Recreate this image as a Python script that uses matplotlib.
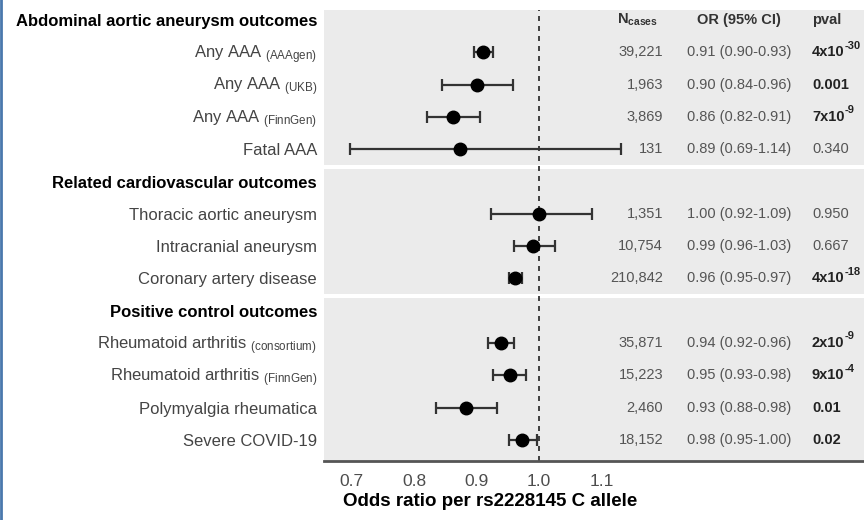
import matplotlib
matplotlib.use("Agg")
import matplotlib.pyplot as plt
from matplotlib.lines import Line2D

plt.rcParams['font.family'] = ['Liberation Sans', 'DejaVu Sans']
plt.rcParams['mathtext.fontset'] = 'custom'
plt.rcParams['mathtext.rm'] = 'Liberation Sans'
plt.rcParams['mathtext.bf'] = 'Liberation Sans:bold'
plt.rcParams['mathtext.it'] = 'Liberation Sans:italic'

# ---- data ----
headers = ["Abdominal aortic aneurysm outcomes",
           "Related cardiovascular outcomes",
           "Positive control outcomes"]
header_rows = [0, 5, 9]

labels = [r"Any AAA $_{\mathregular{(AAAgen)}}$",
          r"Any AAA $_{\mathregular{(UKB)}}$",
          r"Any AAA $_{\mathregular{(FinnGen)}}$",
          "Fatal AAA",
          "Thoracic aortic aneurysm",
          "Intracranial aneurysm",
          "Coronary artery disease",
          r"Rheumatoid arthritis $_{\mathregular{(consortium)}}$",
          r"Rheumatoid arthritis $_{\mathregular{(FinnGen)}}$",
          "Polymyalgia rheumatica",
          "Severe COVID-19"]
rows = [1, 2, 3, 4, 6, 7, 8, 10, 11, 12, 13]

est = [0.910, 0.900, 0.862, 0.873, 1.000, 0.990, 0.962, 0.939, 0.954, 0.883, 0.973]
lo  = [0.896, 0.845, 0.820, 0.697, 0.923, 0.960, 0.952, 0.918, 0.926, 0.835, 0.952]
hi  = [0.926, 0.958, 0.906, 1.131, 1.085, 1.026, 0.972, 0.960, 0.979, 0.933, 0.997]

ncases = ["39,221", "1,963", "3,869", "131", "1,351", "10,754", "210,842",
          "35,871", "15,223", "2,460", "18,152"]
or_ci = ["0.91 (0.90-0.93)", "0.90 (0.84-0.96)", "0.86 (0.82-0.91)", "0.89 (0.69-1.14)",
         "1.00 (0.92-1.09)", "0.99 (0.96-1.03)", "0.96 (0.95-0.97)",
         "0.94 (0.92-0.96)", "0.95 (0.93-0.98)", "0.93 (0.88-0.98)", "0.98 (0.95-1.00)"]
pval_base = ["4x10", "0.001", "7x10", "0.340", "0.950", "0.667", "4x10",
             "2x10", "9x10", "0.01", "0.02"]
pval_exp = ["-30", "", "-9", "", "", "", "-18", "-9", "-4", "", ""]
pval_bold = [True, True, True, False, False, False, True, True, True, True, True]

xticks = [0.7, 0.8, 0.9, 1.0, 1.1]
xtick_labels = ["0.7", "0.8", "0.9", "1.0", "1.1"]

# ---- figure ----
W, H = 864, 520
fig = plt.figure(figsize=(W / 100, H / 100), dpi=100)

ax_l, ax_r, ax_t, ax_b = 324, 864, 10, 461
ax = fig.add_axes([ax_l / W, 1 - ax_b / H, (ax_r - ax_l) / W, (ax_b - ax_t) / H])
ax.set_facecolor('#ebebeb')

scale = 625.0  # px per unit
x1_px = 539
xmin = 1.0 - (x1_px - ax_l) / scale
xmax = 1.0 + (ax_r - x1_px) / scale
ax.set_xlim(xmin, xmax)

row_px0, row_step = 20, 32.3
ymin_r = (ax_t - row_px0) / row_step
ymax_r = (ax_b - row_px0) / row_step
ax.set_ylim(ymax_r, ymin_r)

def px2x(px):
    return xmin + (px - ax_l) / scale

# white separators between panels
for yb in [4.55, 8.55]:
    ax.axhspan(yb - 0.06, yb + 0.06, color='white', lw=0, zorder=1)

ax.axvline(1.0, color='#222222', ls=(0, (3, 3)), lw=1.2, zorder=2)

ax.errorbar(est, rows, xerr=[[e - l for e, l in zip(est, lo)], [h - e for e, h in zip(est, hi)]],
            fmt='o', color='black', ecolor='#333333', elinewidth=1.6, capsize=4.5,
            capthick=1.6, markersize=9, zorder=3)

for s in ['top', 'right', 'left']:
    ax.spines[s].set_visible(False)
ax.spines['bottom'].set_color('#555555')
ax.spines['bottom'].set_linewidth(2)
ax.set_yticks([])
ax.set_xticks(xticks)
ax.set_xticklabels(xtick_labels, fontsize=12.5, color='#4d4d4d')
ax.tick_params(axis='x', length=0, pad=9)

# left labels (baseline aligned so subscripts don't shift the main text)
lab_x = 317 / W
base_off = 6
for r, h in zip(header_rows, headers):
    fig.text(lab_x, 1 - (row_px0 + r * row_step + base_off) / H, h, ha='right', va='baseline',
             fontsize=12, fontweight='bold', color='black')
for r, lab in zip(rows, labels):
    fig.text(lab_x, 1 - (row_px0 + r * row_step + base_off) / H, lab, ha='right', va='baseline',
             fontsize=12, color='#444444')

# table columns
tcol = '#555555'
hy = 0.0
ax.text(px2x(617), hy, r"N$_{\mathregular{cases}}$", ha='left', va='center', fontsize=10.5,
        fontweight='bold', color='#333333')
ax.text(px2x(697), hy, "OR (95% CI)", ha='left', va='center', fontsize=10.5,
        fontweight='bold', color='#333333')
ax.text(px2x(812), hy, "pval", ha='left', va='center', fontsize=10.5,
        fontweight='bold', color='#333333')
for r, n, o, pb, pe, b in zip(rows, ncases, or_ci, pval_base, pval_exp, pval_bold):
    ax.text(px2x(663), r, n, ha='right', va='center', fontsize=10.5, color=tcol)
    ax.text(px2x(687), r, o, ha='left', va='center', fontsize=10.5, color=tcol)
    t = ax.text(px2x(812), r, pb, ha='left', va='center', fontsize=10.5,
                fontweight='bold' if b else 'normal',
                color='#222222' if b else tcol)
    if pe:
        ax.annotate(pe, xy=(1.0, 0.62), xycoords=t, ha='left', va='bottom',
                    fontsize=8, fontweight='bold', color='#222222')

fig.text(490 / W, 1 - 502 / H, "Odds ratio per rs2228145 C allele", ha='center', va='center',
         fontsize=13.5, fontweight='bold', color='black')

fig.add_artist(Line2D([1 / W, 1 / W], [0, 1], color='#4a78ad', lw=2,
                      transform=fig.transFigure))

fig.savefig('out.png', dpi=100)
